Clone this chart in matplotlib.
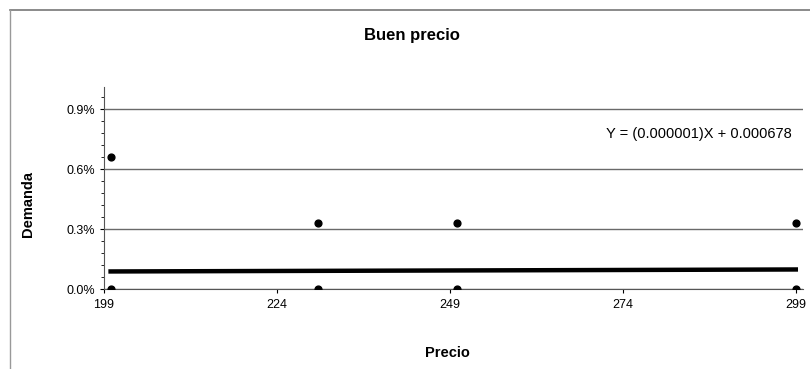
import numpy as np
import matplotlib
matplotlib.use('Agg')
import matplotlib.pyplot as plt
from matplotlib.ticker import FuncFormatter, MultipleLocator
from matplotlib.lines import Line2D

plt.rcParams['font.family'] = ['Liberation Sans', 'DejaVu Sans']

# Observed demand at each price point
precio = [200, 200, 230, 230, 250, 250, 299, 299]
demanda = [0.0066, 0.0, 0.0033, 0.0, 0.0033, 0.0, 0.0033, 0.0]

# Linear trend: Y = slope * X + intercept
slope = 0.000001
intercept = 0.000678
trend_x = np.array([200, 299])

xticks = [199, 224, 249, 274, 299]
yticks = [0.0, 0.003, 0.006, 0.009]

fig = plt.figure(figsize=(8.10, 3.69), dpi=100)
ax = fig.add_axes([0.128, 0.2168, 0.863, 0.547])

for y in yticks:
    ax.axhline(y, color='#6a6a6a', lw=1.0, zorder=1)

ax.plot(trend_x, slope * trend_x + intercept, color='black', lw=3.2, zorder=2)
ax.scatter(precio, demanda, s=24, color='black', zorder=3)

ax.set_xlim(199, 300)
ax.set_ylim(0, 0.0101)
ax.set_xticks(xticks)
ax.set_yticks(yticks)
ax.yaxis.set_minor_locator(MultipleLocator(0.0006))
ax.yaxis.set_major_formatter(FuncFormatter(lambda v, p: f'{v * 100:.1f}%'))
ax.tick_params(axis='both', labelsize=9, colors='black', length=3, width=0.8)
ax.tick_params(axis='y', which='minor', length=2, width=0.6)
ax.tick_params(axis='x', direction='out', pad=4)

for side in ['top', 'right']:
    ax.spines[side].set_visible(False)
ax.spines['left'].set_color('#555555')
ax.spines['bottom'].set_color('#555555')

ax.text(0.985, 0.77, 'Y = (0.000001)X + 0.000678', transform=ax.transAxes,
        ha='right', va='center', fontsize=10.5)

fig.text(0.509, 0.905, 'Buen precio', ha='center', va='center',
         fontsize=12, fontweight='bold')
fig.text(0.552, 0.043, 'Precio', ha='center', va='center',
         fontsize=10.5, fontweight='bold')
fig.text(0.034, 0.447, 'Demanda', ha='center', va='center', rotation=90,
         fontsize=10.5, fontweight='bold')

# chart area border (top and left edges)
fig.add_artist(Line2D([0.0123, 1.0], [0.973, 0.973], transform=fig.transFigure,
                      color='#777777', lw=1.2))
fig.add_artist(Line2D([0.0123, 0.0123], [0.0, 0.973], transform=fig.transFigure,
                      color='#999999', lw=1.0))

fig.savefig('out.png', dpi=100)
